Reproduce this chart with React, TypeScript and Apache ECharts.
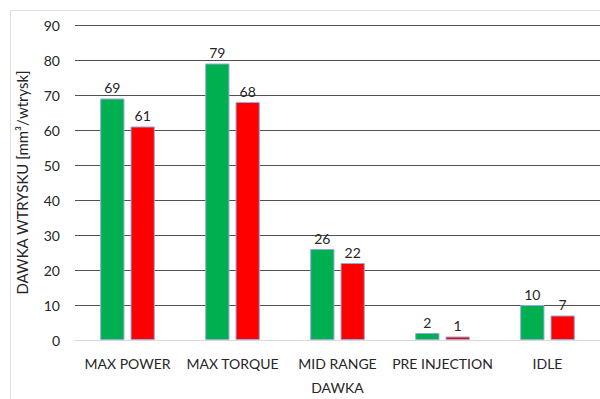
import React, { useEffect, useRef } from "react";
import * as echarts from "echarts";

const categories = ["MAX POWER", "MAX TORQUE", "MID RANGE", "PRE INJECTION", "IDLE"];
const greenValues = [69, 79, 26, 2, 10];
const redValues = [61, 68, 22, 1, 7];
const yTicks = { min: 0, max: 90, interval: 10 };

const FONT = "Lato";
const TEXT = "#262626";

export default function App() {
  const ref = useRef<HTMLDivElement>(null);

  useEffect(() => {
    const chart = echarts.init(ref.current!, null, { renderer: "svg" });
    const barStyle = (color: string) => ({
      color,
      borderColor: "#8faadc",
      borderWidth: 1,
    });
    const label = {
      show: true,
      position: "top" as const,
      distance: 4,
      color: TEXT,
      fontFamily: FONT,
      fontSize: 14,
    };
    chart.setOption({
      animation: false,
      backgroundColor: "#ffffff",
      graphic: [
        {
          type: "rect",
          shape: { x: 10.5, y: 10.5, width: 620, height: 420 },
          style: { fill: "none", stroke: "#e0e0e0", lineWidth: 1 },
          silent: true,
          z: -1,
        },
      ],
      grid: { left: 75, right: -5, top: 25, bottom: 57 },
      xAxis: {
        type: "category",
        data: categories,
        name: "DAWKA",
        nameLocation: "middle",
        nameGap: 40,
        nameTextStyle: { color: TEXT, fontFamily: FONT, fontSize: 14 },
        axisLine: { lineStyle: { color: "#d9d9d9", width: 1 } },
        axisTick: { show: false },
        axisLabel: { color: TEXT, fontFamily: FONT, fontSize: 14, margin: 16, interval: 0 },
      },
      yAxis: {
        type: "value",
        min: yTicks.min,
        max: yTicks.max,
        interval: yTicks.interval,
        name: "DAWKA WTRYSKU [mm³/wtrysk]",
        nameLocation: "middle",
        nameGap: 46,
        nameTextStyle: { color: TEXT, fontFamily: FONT, fontSize: 15 },
        axisLine: { show: false },
        axisTick: { show: false },
        axisLabel: { color: TEXT, fontFamily: FONT, fontSize: 14, margin: 15 },
        splitLine: { lineStyle: { color: "#505050", width: 1 } },
      },
      series: [
        {
          type: "bar",
          data: greenValues,
          itemStyle: barStyle("#00b050"),
          label,
          barGap: "25%",
          barCategoryGap: "48%",
        },
        {
          type: "bar",
          data: redValues,
          itemStyle: barStyle("#ff0000"),
          label,
          barGap: "25%",
          barCategoryGap: "48%",
        },
      ],
    });
    return () => chart.dispose();
  }, []);

  return (
    <div
      ref={ref}
      style={{ position: "fixed", left: 0, top: 0, width: 600, height: 399 }}
    />
  );
}
